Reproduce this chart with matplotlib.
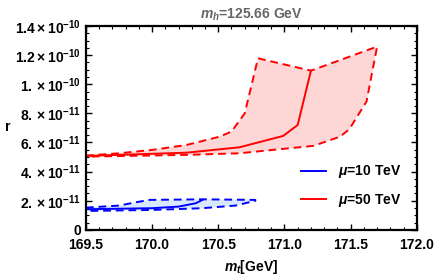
import matplotlib.pyplot as plt
from matplotlib.ticker import FixedLocator, MultipleLocator

plt.rcParams["font.family"] = ["Liberation Sans", "DejaVu Sans"]
plt.rcParams["font.weight"] = "bold"
plt.rcParams["mathtext.fontset"] = "custom"
plt.rcParams["mathtext.rm"] = "Liberation Sans:bold"
plt.rcParams["mathtext.bf"] = "Liberation Sans:bold"
plt.rcParams["mathtext.it"] = "Liberation Sans:bold:italic"

# mu = 50 TeV (red), r in units of 1e-11
red_up_x = [169.5, 169.75, 170.0, 170.26, 170.51, 170.6, 170.7, 170.8, 171.2, 171.7]
red_up_y = [5.1, 5.26, 5.49, 5.83, 6.4, 6.75, 8.0, 11.78, 10.93, 12.58]
red_lo_x = [169.5, 170.26, 170.66, 170.91, 171.22, 171.42, 171.49, 171.62, 171.7]
red_lo_y = [5.03, 5.15, 5.26, 5.49, 5.77, 6.40, 6.91, 8.81, 12.58]
red_mid_x = [169.5, 170.26, 170.66, 170.99, 171.1, 171.2]
red_mid_y = [5.08, 5.3, 5.67, 6.45, 7.2, 10.93]

# mu = 10 TeV (blue)
blue_up_x = [169.5, 169.75, 169.88, 169.98, 170.38, 170.78]
blue_up_y = [1.53, 1.67, 1.90, 2.06, 2.10, 2.06]
blue_lo_x = [169.5, 170.0, 170.38, 170.63, 170.78]
blue_lo_y = [1.30, 1.37, 1.49, 1.67, 2.0]
blue_mid_x = [169.5, 170.0, 170.2, 170.33, 170.38]
blue_mid_y = [1.42, 1.49, 1.60, 1.83, 2.06]

x_ticks = [169.5, 170.0, 170.5, 171.0, 171.5, 172.0]
y_ticks = [0, 2, 4, 6, 8, 10, 12, 14]
y_labels = ["0", r"$2.\times10^{-11}$", r"$4.\times10^{-11}$", r"$6.\times10^{-11}$",
            r"$8.\times10^{-11}$", r"$1.\times10^{-10}$", r"$1.2\times10^{-10}$",
            r"$1.4\times10^{-10}$"]


def band(ax, ux, uy, lx, ly, mx, my, color, fill, label):
    px = ux + lx[::-1]
    py = uy + ly[::-1]
    ax.fill(px, py, color=fill, lw=0)
    ax.plot(px + [px[0]], py + [py[0]], color=color, lw=1.4, ls=(0, (4, 2.5)))
    ax.plot(mx, my, color=color, lw=1.4, label=label)


fig = plt.figure(figsize=(4.36, 2.76), dpi=100)
ax = fig.add_axes([0.197, 0.167, 0.759, 0.739])

band(ax, blue_up_x, blue_up_y, blue_lo_x, blue_lo_y, blue_mid_x, blue_mid_y,
     "#0000ff", "#d8e8ff", r"$\mu$=10 TeV")
band(ax, red_up_x, red_up_y, red_lo_x, red_lo_y, red_mid_x, red_mid_y,
     "#ff0000", "#ffd6d6", r"$\mu$=50 TeV")

ax.set_xlim(169.5, 172.0)
ax.set_ylim(0, 14)
ax.xaxis.set_major_locator(FixedLocator(x_ticks))
ax.xaxis.set_minor_locator(MultipleLocator(0.1))
ax.yaxis.set_major_locator(FixedLocator(y_ticks))
ax.yaxis.set_minor_locator(MultipleLocator(0.5))
ax.set_xticklabels(["%.1f" % t for t in x_ticks])
ax.set_yticklabels(y_labels)
ax.tick_params(which="both", direction="in", top=True, right=True, labelsize=10)
ax.tick_params(which="major", length=4, width=1)
ax.tick_params(which="minor", length=2, width=0.8)
ax.tick_params(axis="x", pad=6)
for s in ax.spines.values():
    s.set_linewidth(1.6)

ax.set_xlabel(r"$m_t$[GeV]", fontsize=10, fontweight="bold", labelpad=4)
ax.set_ylabel("r", fontsize=10, fontweight="bold", rotation=0, va="center")
ax.yaxis.set_label_coords(-0.236, 0.505)
ax.set_title(r"$m_h$=125.66 GeV", fontsize=10, fontweight="bold", color="#666666", pad=5)

leg = ax.legend(loc="lower right", bbox_to_anchor=(0.99, 0.04), frameon=False,
                fontsize=10, handlelength=1.8, labelspacing=0.85)

fig.savefig("out.png", dpi=100)
